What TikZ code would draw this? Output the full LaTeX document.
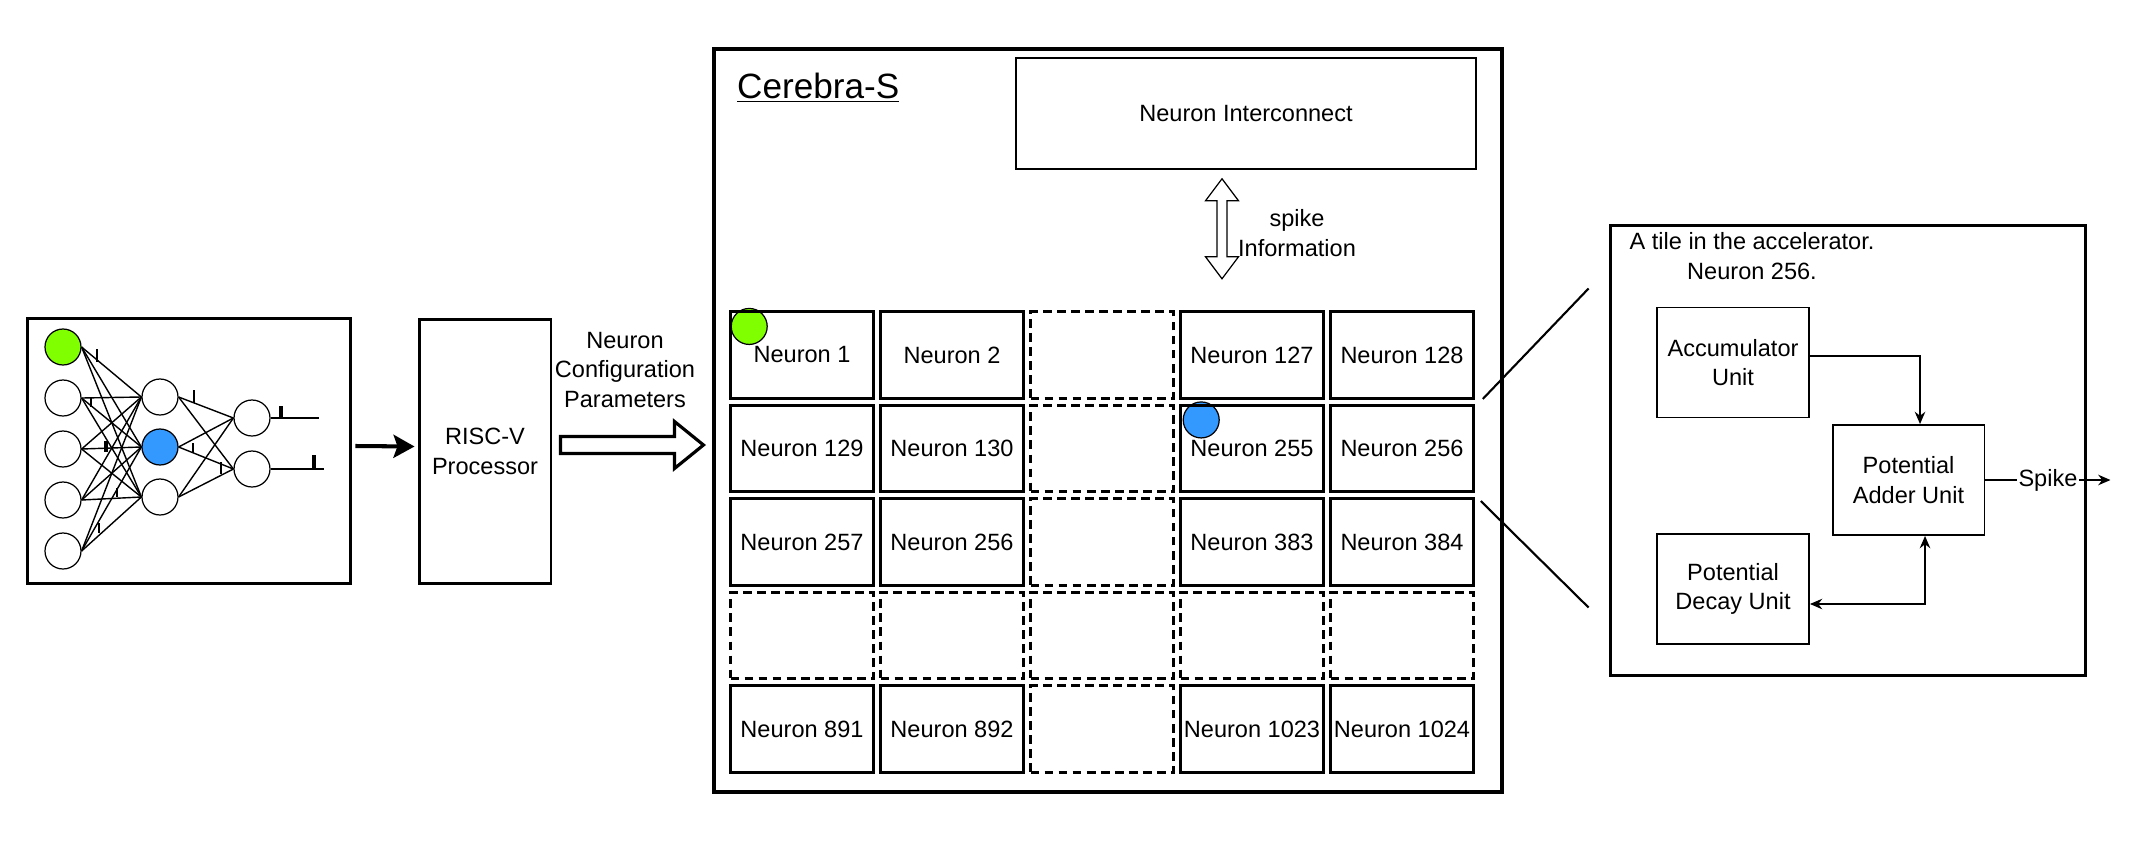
\documentclass[tikz,border=0pt]{standalone}
\usepackage{fontspec}
\setmainfont{Liberation Sans}
\usetikzlibrary{arrows.meta,calc,positioning,backgrounds}
\definecolor{spikegreen}{RGB}{128,255,0}
\definecolor{spikeblue}{RGB}{51,153,255}

\begin{document}
\begin{tikzpicture}[x=0.02cm, y=-0.02cm, >={Stealth[length=7pt,width=6pt]},
    font=\fontsize{13.4}{16.7}\selectfont,
    neuron/.style={circle, draw, line width=0.7pt, minimum size=0.72cm, inner sep=0pt},
    frame/.style={draw, line width=1.7pt, inner sep=0pt},
    cell/.style={draw, line width=1.5pt, minimum width=2.86cm, minimum height=1.73cm, inner sep=0pt},
    emptycell/.style={draw, line width=1.5pt, dash pattern=on 5pt off 3pt, minimum width=2.86cm, minimum height=1.73cm},
    unit/.style={draw, line width=1.1pt, minimum width=3.04cm, minimum height=2.2cm, align=center},
    hollow/.style={draw, fill=white, line join=miter},
    spk/.style={line width=0.8pt}]
    \useasboundingbox (0,0) rectangle (2149,845);

    % Netz links
    \node[frame, minimum width=6.48cm, minimum height=5.32cm] (snn) at (189,451) {};
    \node[neuron, fill=spikegreen] (in1) at (63,347) {};
    \foreach \i/\y in {2/398,3/449,4/500,5/551}
        \node[neuron] (in\i) at (63,\y) {};
    \node[neuron] (h1) at (160,397) {};
    \node[neuron, fill=spikeblue] (h2) at (160,447) {};
    \node[neuron] (h3) at (160,497) {};
    \node[neuron] (o1) at (252,418) {};
    \node[neuron] (o2) at (252,469) {};
    \foreach \i in {1,...,5}
        \foreach \j in {1,2,3}
            \draw[spk] (in\i.east) -- (h\j.west);
    \foreach \j in {1,2,3}
        \foreach \k in {1,2}
            \draw[spk] (h\j.east) -- (o\k.west);
    \draw[spk] (o1.east) -- ++(48,0) coordinate (y1);
    \draw[spk] (o2.east) -- ++(53,0) coordinate (y2);
    % kleine Spikes
    \foreach \x/\ya/\yb in {97/349/362, 91/397/407, 117/488/497, 99/523/533, 194/390/403, 193/443/453, 221/462/474}
        \draw[spk] (\x,\ya) -- (\x,\yb);
    \foreach \x/\ya/\yb in {106/441/452, 281/406/419, 314/455/468}
        \draw[line width=1.8pt] (\x,\ya) -- (\x,\yb);

    % Prozessor
    \node[frame, minimum width=2.64cm, minimum height=5.3cm, align=center] (risc) at (485,451.5) {RISC-V\\Processor};
    \draw[-{Stealth[length=0.42cm,width=0.46cm,inset=0.08cm]}, line width=2.3pt] ($(snn.east)+(3,-5)$) -- ($(risc.west)+(-3,-5)$);
    \node[align=center] (cfg) at (625,370) {Neuron\\Configuration\\Parameters};
    \coordinate (cfgA) at ($(risc.east)+(8,-6.5)$);
    \draw[hollow, line width=1.8pt] (cfgA) ++(0,-8.5) -- ++(114,0) -- ++(0,-15) -- ++(29,23.5)
        -- ++(-29,23.5) -- ++(0,-15) -- ++(-114,0) -- cycle;

    % Beschleuniger
    \node[draw, line width=2.4pt, minimum width=15.76cm, minimum height=14.86cm] (cerebra) at (1108,420.5) {};
    \node[anchor=west, font=\fontsize{20}{24}\selectfont] (title) at (731,88) {\underline{Cerebra-S}};
    \node[draw, line width=0.9pt, minimum width=9.2cm, minimum height=2.22cm] (inter) at (1246,113.5) {Neuron Interconnect};
    \coordinate (sTop) at ($(inter.south)+(-24,9)$);
    \draw[hollow, line width=0.7pt] (sTop) -- ++(16.5,22) -- ++(-11.5,0) -- ++(0,56) -- ++(11.5,0)
        -- ++(-16.5,22) -- ++(-16.5,-22) -- ++(11.5,0) -- ++(0,-56) -- ++(-11.5,0) -- cycle;
    \node[align=center] (spinfo) at (1297,233) {spike\\Information};

    % Neuronen-Raster
    \foreach \c/\r/\t in {1/1/1, 2/1/2, 4/1/127, 5/1/128, 1/2/129, 2/2/130, 4/2/255, 5/2/256,
                          1/3/257, 2/3/256, 4/3/383, 5/3/384, 1/5/891, 2/5/892, 4/5/1023, 5/5/1024}
        \node[cell] (c-\r-\c) at ({802+150*(\c-1)}, {355+93.5*(\r-1)}) {Neuron \t};
    \foreach \c/\r in {3/1, 3/2, 3/3, 1/4, 2/4, 3/4, 4/4, 5/4, 3/5}
        \node[emptycell] (c-\r-\c) at ({802+150*(\c-1)}, {355+93.5*(\r-1)}) {};
    \begin{scope}[on background layer]
        \node[neuron, fill=spikegreen] (mark1) at ($(c-1-1.north west)+(20,16)$) {};
        \node[neuron, fill=spikeblue] (mark2) at ($(c-2-4.north west)+(22,16)$) {};
    \end{scope}

    % Kachel
    \node[frame, minimum width=9.52cm, minimum height=9.02cm] (tile) at (1848,450.5) {};
    \node[align=center] (tiletxt) at (1752,256) {A tile in the accelerator.\\Neuron 256.};
    \node[unit] (acc) at (1733,362.5) {Accumulator\\Unit};
    \node[unit] (add) at (1908.5,480) {Potential\\Adder Unit};
    \node[unit] (dec) at (1733,589) {Potential\\Decay Unit};
    \draw[->, line width=0.8pt] ($(acc.east)+(0,-6.5)$) -| ($(add.north)+(11.5,0)$);
    \draw[<->, line width=0.8pt] ($(add.south)+(16.5,0)$) |- ($(dec.east)+(0,15)$);
    \draw[->, line width=0.8pt] (add.east) -- ++(125,0) node[midway, fill=white, inner sep=1pt] (spk) {Spike};

    % Vergroesserung
    \coordinate (zoomA) at ($(tile.west)+(-20,-162)$);
    \coordinate (zoomB) at ($(tile.west)+(-20,157)$);
    \draw[line width=1.2pt] ($(c-2-5.north east)+(8,-5)$) -- (zoomA);
    \draw[line width=1.2pt] ($(c-2-5.south east)+(6,8)$) -- (zoomB);
\end{tikzpicture}
\end{document}
